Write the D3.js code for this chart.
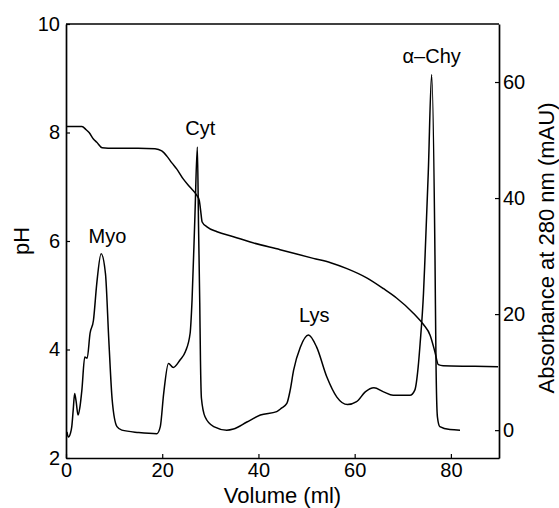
<!DOCTYPE html>
<html lang="en">
  <head>
    <meta charset="UTF-8" />
    <title>pH gradient chromatofocusing</title>
    <style>
      html,
      body {
        margin: 0;
        background: #fff;
      }
      svg text {
        font-family: "Liberation Sans", Arial, sans-serif;
        fill: #000;
      }
    </style>
    <script src="https://cdn.jsdelivr.net/npm/d3@7"></script>
  </head>
  <body>
    <script>
      const width = 559;
      const height = 508;
      const margin = { left: 66, right: 60, top: 24, bottom: 50 };

      // pH trace (left axis)
      const phVolume = [0.2, 3.3, 4.2, 4.8, 5.7, 6.4, 7.5, 10, 15, 18.5, 19.9, 21.0, 22.0, 23.0, 24.4, 25.8, 27.2, 27.7, 28.0, 28.3, 29.3, 31.4, 34.8, 38.3, 44.5, 51.4, 55, 58.4, 62.5, 66, 68.7, 72.2, 74.3, 75.7, 76.7, 77.4, 78.4, 85, 89.8];
      const phValues = [8.11, 8.11, 8.05, 8.0, 7.88, 7.82, 7.72, 7.71, 7.71, 7.7, 7.66, 7.56, 7.44, 7.33, 7.14, 6.99, 6.84, 6.75, 6.55, 6.35, 6.26, 6.17, 6.08, 5.98, 5.84, 5.68, 5.6, 5.49, 5.32, 5.12, 4.95, 4.67, 4.46, 4.26, 3.95, 3.72, 3.7, 3.69, 3.68];

      // absorbance trace (right axis)
      const absVolume = [0.2, 0.5, 0.9, 1.2, 1.5, 1.8, 2.1, 2.5, 2.9, 3.3, 3.9, 4.4, 5.0, 5.7, 6.4, 7.3, 8.2, 8.9, 9.6, 10.6, 11.6, 15.1, 18.9, 19.6, 20.3, 21.3, 22.3, 23.7, 24.8, 25.8, 26.2, 26.8, 27.3, 27.55, 27.8, 27.95, 28.15, 28.9, 30.7, 33.4, 34.8, 37.6, 40.4, 43.8, 44.8, 45.9, 46.6, 47.3, 48.7, 50.4, 52.1, 54.2, 56.3, 58.5, 60.4, 62.2, 64.0, 66.0, 68.0, 71.5, 72.5, 73.2, 73.6, 74.3, 74.6, 75.3, 76.0, 76.7, 76.9, 77.2, 77.7, 79.8, 81.9];
      const absValues = [-0.3, -1.2, -0.6, 0.6, 3.5, 6.3, 5.0, 2.6, 4.0, 6.9, 12.6, 12.4, 16.7, 18.9, 25.3, 30.4, 27, 15.5, 5.2, 0.6, 0, -0.4, -0.6, 0.6, 6.3, 11.5, 10.8, 12.1, 13.5, 16.7, 22.4, 37, 48.8, 35, 22, 12, 5.5, 2.3, 0.6, 0, 0.2, 1.4, 2.6, 3.2, 3.8, 4.6, 6.9, 10.3, 14.3, 16.4, 14.3, 9.2, 5.7, 4.4, 4.9, 6.6, 7.3, 6.6, 6.0, 6.0, 6.9, 10.9, 14.9, 23.5, 29.3, 44.4, 61.3, 29.3, 12, 2.3, 0.6, 0.1, 0];

      // peak labels
      const peakNames = ["Myo", "Cyt", "Lys", "\u03b1\u2013Chy"];
      const peakVolume = [8.6, 27.9, 51.6, 76.0];
      const peakAbs = [32.3, 50.9, 18.6, 63.2];

      const xTicks = [0, 20, 40, 60, 80];
      const phTicks = [2, 4, 6, 8, 10];
      const absTicks = [0, 20, 40, 60];

      const svg = d3
        .select("body")
        .append("svg")
        .attr("width", width)
        .attr("height", height);

      const xScale = d3
        .scaleLinear()
        .domain([0, 90])
        .range([margin.left, width - margin.right]);
      const yPH = d3
        .scaleLinear()
        .domain([2, 10])
        .range([height - margin.bottom, margin.top]);
      const yAbs = d3
        .scaleLinear()
        .domain([-4.8, 70])
        .range([height - margin.bottom, margin.top]);

      const axisFont = 20;

      // bottom axis
      const gx = svg
        .append("g")
        .attr("transform", `translate(0, ${height - margin.bottom})`)
        .call(d3.axisBottom(xScale).tickValues(xTicks).tickSizeInner(-4).tickSizeOuter(0).tickPadding(5));

      // left axis
      const gl = svg
        .append("g")
        .attr("transform", `translate(${margin.left}, 0)`)
        .call(d3.axisLeft(yPH).tickValues(phTicks).tickSizeInner(-4).tickSizeOuter(0).tickPadding(6));

      // right axis
      const gr = svg
        .append("g")
        .attr("transform", `translate(${width - margin.right}, 0)`)
        .call(d3.axisRight(yAbs).tickValues(absTicks).tickSizeInner(-4).tickSizeOuter(0).tickPadding(4));

      [gx, gl, gr].forEach((g) => {
        g.selectAll(".domain").attr("stroke", "#000").attr("stroke-width", 1.7);
        g.selectAll(".tick line").attr("stroke", "#000").attr("stroke-width", 1.2);
        g.selectAll("text").attr("font-size", axisFont).attr("fill", "#000");
      });

      // top frame line
      svg
        .append("line")
        .attr("x1", xScale(0))
        .attr("x2", xScale(90))
        .attr("y1", margin.top)
        .attr("y2", margin.top)
        .attr("stroke", "#000")
        .attr("stroke-width", 1.7);

      // curves
      const phLine = d3
        .line()
        .x((d) => xScale(d[0]))
        .y((d) => yPH(d[1]))
        .curve(d3.curveMonotoneX);
      const absLine = d3
        .line()
        .x((d) => xScale(d[0]))
        .y((d) => yAbs(d[1]))
        .curve(d3.curveMonotoneX);

      svg
        .append("path")
        .datum(d3.zip(phVolume, phValues))
        .attr("d", phLine)
        .attr("fill", "none")
        .attr("stroke", "#000")
        .attr("stroke-width", 1.5);

      svg
        .append("path")
        .datum(d3.zip(absVolume, absValues))
        .attr("d", absLine)
        .attr("fill", "none")
        .attr("stroke", "#000")
        .attr("stroke-width", 1.5)
        .attr("stroke-linejoin", "round");

      // peak labels
      svg
        .selectAll(".peak")
        .data(peakNames)
        .enter()
        .append("text")
        .attr("class", "peak")
        .attr("x", (d, i) => xScale(peakVolume[i]))
        .attr("y", (d, i) => yAbs(peakAbs[i]))
        .attr("text-anchor", "middle")
        .attr("font-size", 20)
        .text((d) => d);

      // axis titles
      svg
        .append("text")
        .attr("x", (xScale(0) + xScale(90)) / 2)
        .attr("y", 503)
        .attr("text-anchor", "middle")
        .attr("font-size", 22)
        .text("Volume (ml)");

      svg
        .append("text")
        .attr("transform", `translate(29, ${yPH(6)}) rotate(-90)`)
        .attr("text-anchor", "middle")
        .attr("font-size", 22)
        .text("pH");

      svg
        .append("text")
        .attr("transform", `translate(554, 248) rotate(-90)`)
        .attr("text-anchor", "middle")
        .attr("font-size", 22)
        .text("Absorbance at 280 nm (mAU)");
    </script>
  </body>
</html>
